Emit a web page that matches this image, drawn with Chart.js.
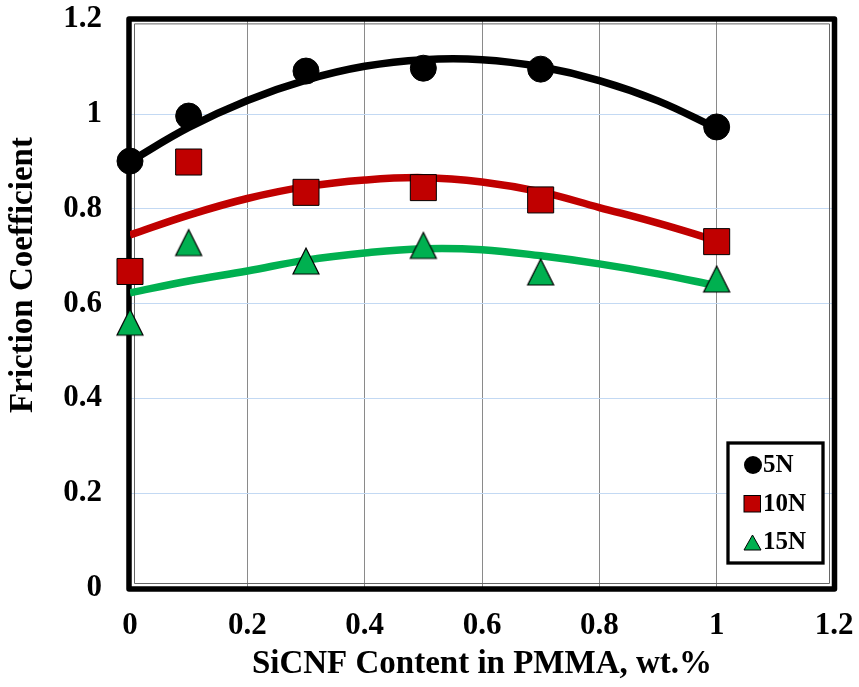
<!DOCTYPE html>
<html>
<head>
<meta charset="utf-8">
<script src="https://cdn.jsdelivr.net/npm/chart.js@4.4.1/dist/chart.umd.min.js"></script>
<style>
html, body { margin: 0; padding: 0; background: #fff; }
#c { display: block; }
</style>
</head>
<body>
<canvas id="c" width="859" height="687"></canvas>
<script>
// measured points
var contentX = [0, 0.1, 0.3, 0.5, 0.7, 1.0];
var friction5N = [0.901, 0.996, 1.091, 1.097, 1.095, 0.973];
var friction10N = [0.668, 0.899, 0.835, 0.845, 0.819, 0.731];
var friction15N = [0.561, 0.729, 0.690, 0.723, 0.667, 0.652];

// trend curves
var trendX = [0, 0.1, 0.2, 0.3, 0.4, 0.5, 0.6, 0.7, 0.8, 0.9, 1.0];
var trend5N = [0.900, 0.972, 1.029, 1.072, 1.101, 1.115, 1.115, 1.100, 1.071, 1.028, 0.970];
var trend10N = [0.745, 0.787, 0.822, 0.847, 0.861, 0.866, 0.857, 0.836, 0.803, 0.770, 0.733];
var trend15N = [0.623, 0.648, 0.669, 0.692, 0.707, 0.716, 0.714, 0.701, 0.684, 0.663, 0.638];

var seriesNames = ["5N", "10N", "15N"];
var axisTicks = [0, 0.2, 0.4, 0.6, 0.8, 1.0, 1.2];
var xTitle = "SiCNF Content in PMMA, wt.%";
var yTitle = "Friction Coefficient";

var RED = "#C00000";
var GREEN = "#00B050";
var FONT = "'Liberation Serif', 'Times New Roman', serif";

function pairs(xs, ys) {
    return xs.map(function(x, i) { return {x: x, y: ys[i]}; });
}

// triangle centred on its box, like the spreadsheet marker
function makeTriangle(w, h, lw) {
    var pad = Math.ceil(lw) + 1;
    var c = document.createElement("canvas");
    c.width = w + 2 * pad;
    c.height = h + 2 * pad;
    var g = c.getContext("2d");
    g.beginPath();
    g.moveTo(c.width / 2, pad);
    g.lineTo(pad + w, pad + h);
    g.lineTo(pad, pad + h);
    g.closePath();
    g.fillStyle = GREEN;
    g.fill();
    g.lineWidth = lw;
    g.strokeStyle = "#000";
    g.stroke();
    return c;
}

var triBig = makeTriangle(26, 26, 1.2);
var triSmall = makeTriangle(17, 15, 1);

var frameBorder = {
    id: "frameBorder",
    beforeDatasetsDraw: function(chart) {
        var a = chart.chartArea, ctx = chart.ctx;
        ctx.save();
        ctx.lineJoin = "round";
        ctx.strokeStyle = "#000";
        ctx.lineWidth = 5.5;
        ctx.strokeRect(a.left - 1, a.top - 0.5, a.right - a.left + 1.5, a.bottom - a.top + 1.5);
        ctx.lineWidth = 1;
        ctx.strokeStyle = "#666";
        ctx.strokeRect(a.left + 4.5, a.top + 4.5, a.right - a.left - 9, a.bottom - a.top - 9);
        ctx.restore();
    }
};

// y title sits above the middle of the axis in the original
var sideTitle = {
    id: "sideTitle",
    afterDraw: function(chart) {
        var ctx = chart.ctx;
        ctx.save();
        ctx.translate(23, 275);
        ctx.rotate(-Math.PI / 2);
        ctx.font = "bold 33px " + FONT;
        ctx.fillStyle = "#000";
        ctx.textAlign = "center";
        ctx.textBaseline = "middle";
        ctx.fillText(yTitle, 0, 0);
        ctx.restore();
    }
};

var insideLegend = {
    id: "insideLegend",
    afterDraw: function(chart) {
        var a = chart.chartArea, ctx = chart.ctx;
        var w = 95, h = 120;
        var x0 = a.right - 11 - w, y0 = a.bottom - 25 - h;
        ctx.save();
        ctx.fillStyle = "#fff";
        ctx.fillRect(x0, y0, w, h);
        ctx.lineWidth = 3.3;
        ctx.strokeStyle = "#000";
        ctx.strokeRect(x0, y0, w, h);
        ctx.font = "bold 25px " + FONT;
        ctx.textBaseline = "middle";
        ctx.textAlign = "left";
        for (var i = 0; i < 3; i++) {
            var cy = y0 + 22 + i * 38.5;
            var cx = x0 + 24;
            if (i === 0) {
                ctx.beginPath();
                ctx.arc(cx + 1, cy, 9, 0, Math.PI * 2);
                ctx.fillStyle = "#000";
                ctx.fill();
            } else if (i === 1) {
                ctx.fillStyle = RED;
                ctx.fillRect(cx - 8, cy - 8, 16.5, 16.5);
                ctx.lineWidth = 1;
                ctx.strokeStyle = "#000";
                ctx.strokeRect(cx - 8, cy - 8, 16.5, 16.5);
            } else {
                ctx.drawImage(triSmall, Math.round(cx - triSmall.width / 2), Math.round(cy - triSmall.height / 2));
            }
            ctx.fillStyle = "#000";
            ctx.fillText(seriesNames[i], x0 + 35, cy + 1);
        }
        ctx.restore();
    }
};

function tickText(v) {
    return String(Math.round(v * 10) / 10);
}

new Chart(document.getElementById("c"), {
    type: "scatter",
    data: {
        datasets: [
            {
                label: seriesNames[0], data: pairs(contentX, friction5N), showLine: false,
                pointStyle: "circle", pointRadius: 13, pointBackgroundColor: "#000",
                pointBorderColor: "#000", pointBorderWidth: 1, order: 0, clip: false
            },
            {
                label: seriesNames[1], data: pairs(contentX, friction10N), showLine: false,
                pointStyle: "rect", pointRadius: 18.4, pointBackgroundColor: RED,
                pointBorderColor: "#000", pointBorderWidth: 1, order: 0, clip: false
            },
            {
                label: seriesNames[2], data: pairs(contentX, friction15N), showLine: false,
                pointStyle: triBig, pointRadius: 15, order: 0, clip: false
            },
            {
                label: "trend 5N", data: pairs(trendX, trend5N), showLine: true,
                borderColor: "#000", borderWidth: 7.5, pointRadius: 0, tension: 0.4, order: 1
            },
            {
                label: "trend 10N", data: pairs(trendX, trend10N), showLine: true,
                borderColor: RED, borderWidth: 7.5, pointRadius: 0, tension: 0.4, order: 1
            },
            {
                label: "trend 15N", data: pairs(trendX, trend15N), showLine: true,
                borderColor: GREEN, borderWidth: 7.5, pointRadius: 0, tension: 0.4, order: 1
            }
        ]
    },
    options: {
        responsive: false,
        animation: false,
        layout: {padding: {top: 18, right: 25, left: 0, bottom: 0}},
        plugins: {legend: {display: false}, tooltip: {enabled: false}},
        scales: {
            x: {
                type: "linear", min: 0, max: 1.2,
                afterBuildTicks: function(s) { s.ticks = axisTicks.map(function(v) { return {value: v}; }); },
                afterFit: function(s) { s.height = 99; s.paddingLeft = 0; s.paddingRight = 0; },
                border: {display: false},
                grid: {
                    drawTicks: false, lineWidth: 1,
                    color: function(c) {
                        var v = c.tick ? c.tick.value : 0;
                        return (v <= 0.001 || v >= 1.199) ? "rgba(0,0,0,0)" : "#8a8a8a";
                    }
                },
                ticks: {
                    padding: 19, color: "#000", maxRotation: 0,
                    font: {family: FONT, size: 31, weight: "bold"},
                    callback: tickText
                },
                title: {
                    display: true, text: xTitle, color: "#000",
                    font: {family: FONT, size: 33, weight: "bold"},
                    padding: {top: 0, bottom: 3}
                }
            },
            y: {
                type: "linear", min: 0, max: 1.2,
                afterBuildTicks: function(s) { s.ticks = axisTicks.map(function(v) { return {value: v}; }); },
                afterFit: function(s) { s.width = 130; s.paddingTop = 0; s.paddingBottom = 0; },
                border: {display: false},
                grid: {
                    drawTicks: false, lineWidth: 1,
                    color: function(c) {
                        var v = c.tick ? c.tick.value : 0;
                        return (v <= 0.001 || v >= 1.199) ? "rgba(0,0,0,0)" : "#c3d9f3";
                    }
                },
                ticks: {
                    padding: 28, color: "#000",
                    font: {family: FONT, size: 31, weight: "bold"},
                    callback: tickText
                },
                title: {display: false}
            }
        }
    },
    plugins: [frameBorder, sideTitle, insideLegend]
});
</script>
</body>
</html>
